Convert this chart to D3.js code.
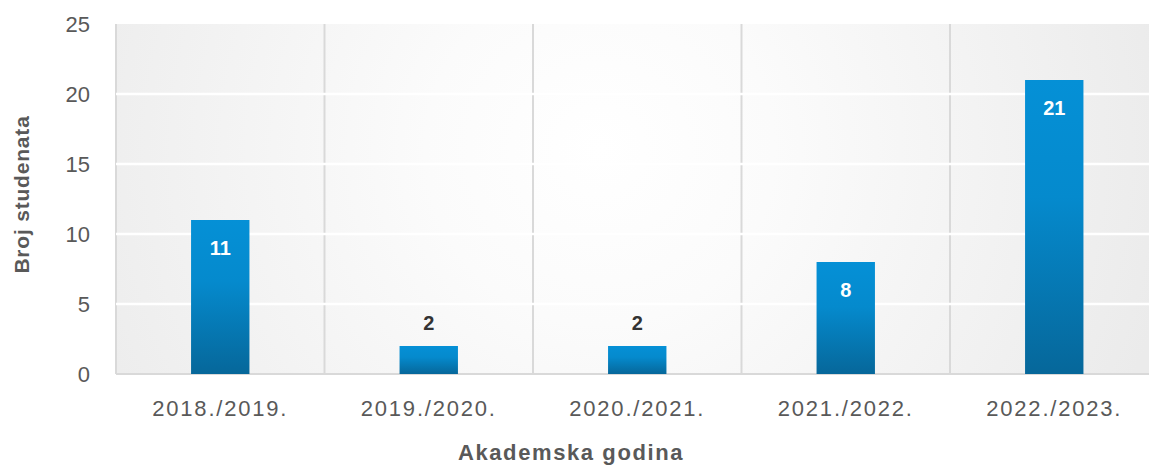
<!DOCTYPE html>
<html><head><meta charset="utf-8">
<script src="https://cdn.jsdelivr.net/npm/d3@7"></script>
<style>html,body{margin:0;padding:0;background:#fff;}svg{display:block;}</style>
</head><body>
<svg id="chart" width="1149" height="467"></svg>
<script>
const categories = ["2018./2019.", "2019./2020.", "2020./2021.", "2021./2022.", "2022./2023."];
const values = [11, 2, 2, 8, 21];
const yTicks = [0, 5, 10, 15, 20, 25];
const yTitle = "Broj studenata";
const xTitle = "Akademska godina";

const svg = d3.select("#chart");
const font = "'Liberation Sans', Arial, sans-serif";
const m = {left: 116, top: 24, right: 1158.5, bottom: 374};

const x = d3.scaleBand().domain(categories).range([m.left, m.right]).paddingInner(0).paddingOuter(0);
const y = d3.scaleLinear().domain([0, 25]).range([m.bottom, m.top]);

const defs = svg.append("defs");
const bg = defs.append("radialGradient").attr("id", "bg").attr("gradientUnits", "userSpaceOnUse")
  .attr("cx", 600).attr("cy", 150).attr("r", 580);
bg.append("stop").attr("offset", "0").attr("stop-color", "#ffffff");
bg.append("stop").attr("offset", "0.3").attr("stop-color", "#fbfbfb");
bg.append("stop").attr("offset", "1").attr("stop-color", "#ebebeb");

const bar = defs.append("linearGradient").attr("id", "bar").attr("x1", 0).attr("y1", 0).attr("x2", 0).attr("y2", 1);
bar.append("stop").attr("offset", "0").attr("stop-color", "#0590d6");
bar.append("stop").attr("offset", "0.4").attr("stop-color", "#058acd");
bar.append("stop").attr("offset", "1").attr("stop-color", "#06679a");

svg.append("rect").attr("x", m.left).attr("y", m.top).attr("width", m.right - m.left).attr("height", m.bottom - m.top)
  .attr("fill", "url(#bg)");

// vertical category separators
const seps = categories.map(c => x(c)).concat([m.right]);
svg.append("g").selectAll("line").data(seps).join("line")
  .attr("x1", d => d).attr("x2", d => d).attr("y1", m.top).attr("y2", m.bottom)
  .attr("stroke", "#d9d9d9").attr("stroke-width", 2);

// horizontal gridlines (white)
svg.append("g").selectAll("line").data(yTicks.filter(t => t > 0 && t < 25)).join("line")
  .attr("x1", m.left).attr("x2", m.right).attr("y1", d => y(d)).attr("y2", d => y(d))
  .attr("stroke", "#ffffff").attr("stroke-width", 2.5);

// baseline
svg.append("line").attr("x1", m.left).attr("x2", m.right).attr("y1", y(0)).attr("y2", y(0))
  .attr("stroke", "#d9d9d9").attr("stroke-width", 2);

// bars
const bw = x.bandwidth() * 0.28;
svg.append("g").selectAll("rect").data(values).join("rect")
  .attr("x", (d, i) => x(categories[i]) + x.bandwidth() / 2 - bw / 2)
  .attr("y", d => y(d)).attr("width", bw).attr("height", d => y(0) - y(d))
  .attr("fill", "url(#bar)");

// data labels
svg.append("g").selectAll("text").data(values).join("text")
  .attr("x", (d, i) => x(categories[i]) + x.bandwidth() / 2)
  .attr("y", d => d >= 5 ? y(d) + 35 : y(d) - 16)
  .attr("text-anchor", "middle").attr("font-family", font).attr("font-weight", "bold").attr("font-size", 20)
  .attr("fill", d => d >= 5 ? "#ffffff" : "#333333")
  .text(d => d);

// y tick labels
svg.append("g").selectAll("text").data(yTicks).join("text")
  .attr("x", 90).attr("y", d => y(d)).attr("dy", "0.35em")
  .attr("text-anchor", "end").attr("font-family", font).attr("font-size", 22).attr("fill", "#595959")
  .text(d => d);

// x tick labels
svg.append("g").selectAll("text").data(categories).join("text")
  .attr("x", d => x(d) + x.bandwidth() / 2).attr("y", 408).attr("dy", "0.35em")
  .attr("text-anchor", "middle").attr("font-family", font).attr("font-size", 22).attr("fill", "#595959")
  .attr("letter-spacing", "1.8px")
  .text(d => d);

// axis titles
svg.append("text").attr("transform", "translate(22,194.5) rotate(-90)").attr("dy", "0.35em")
  .attr("text-anchor", "middle").attr("font-family", font).attr("font-weight", "bold").attr("font-size", 21)
  .attr("letter-spacing", "0.8px")
  .attr("fill", "#595959").text(yTitle);
svg.append("text").attr("x", 571).attr("y", 452).attr("dy", "0.35em")
  .attr("text-anchor", "middle").attr("font-family", font).attr("font-weight", "bold").attr("font-size", 22)
  .attr("letter-spacing", "1.6px")
  .attr("fill", "#595959").text(xTitle);
</script>
</body></html>
